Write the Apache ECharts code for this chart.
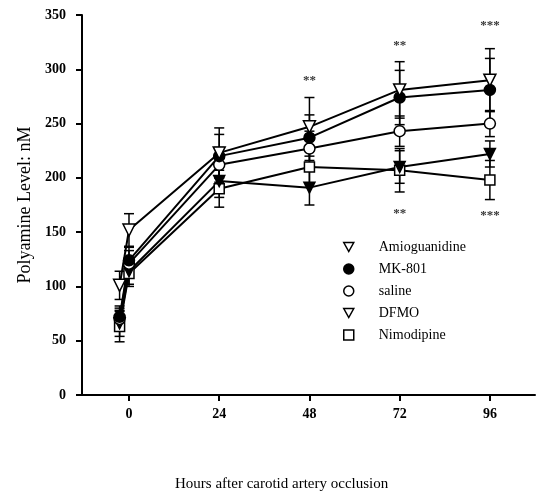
<!DOCTYPE html>
<html>
<head>
<meta charset="utf-8">
<title>Polyamine level after carotid artery occlusion</title>
<script src="https://cdn.jsdelivr.net/npm/echarts@6/dist/echarts.min.js"></script>
<style>
  html, body { margin: 0; padding: 0; background: #fff }
  #chart { width: 537px; height: 494px }
</style>
</head>
<body>
<div id="chart"></div>
<script>
// 数据
const hours = [-2.5, 0, 24, 48, 72, 96]
const xTicks = [0, 24, 48, 72, 96]

const amioguanidine = [101, 152, 223, 247, 281, 290]
const amioguanidineErr = [13, 15, 23, 27, 26, 29]
const mk801 = [72, 124, 220, 237, 274, 281]
const mk801Err = [10, 12, 20, 21, 25, 29]
const saline = [70, 121, 212, 227, 243, 250]
const salineErr = [10, 12, 16, 16, 14, 12]
const dfmo = [66, 114, 197, 191, 210, 222]
const dfmoErr = [12, 12, 15, 16, 15, 12]
const nimodipine = [63, 112, 190, 210, 207, 198]
const nimodipineErr = [14, 12, 17, 15, 20, 18]

// 显著性标记
const sigHours = [48, 72, 96, 72, 96]
const sigLevels = [290, 322, 340, 167, 165]
const sigMarks = ['**', '**', '***', '**', '***']

const FONT = '"Liberation Serif", "Times New Roman", serif'
const DOWN_TRIANGLE = 'path://M0,0 L10,0 L5,9 Z'

const chart = echarts.init(document.getElementById('chart'))

// 每组一条折线
function lineSeries(name, values, symbol, filled, size) {
  return {
    name,
    type: 'line',
    data: hours.map((h, i) => [h, values[i]]),
    symbol,
    symbolSize: size,
    symbolRotate: symbol === 'triangle' ? 180 : 0,
    showSymbol: true,
    z: 3,
    lineStyle: { color: '#000', width: 2 },
    itemStyle: {
      color: filled ? '#000' : '#fff',
      borderColor: '#000',
      borderWidth: 1.5
    }
  }
}

// 误差线（上下 SEM，带端帽）
function errorSeries(name, values, errs) {
  return {
    name: name + ' SEM',
    type: 'custom',
    silent: true,
    z: 2,
    encode: { x: 0, y: [1, 2] },
    data: hours.map((h, i) => [h, values[i] - errs[i], values[i] + errs[i]]),
    renderItem: (params, api) => {
      const lo = api.coord([api.value(0), api.value(1)])
      const hi = api.coord([api.value(0), api.value(2)])
      const w = 5
      const style = { stroke: '#000', lineWidth: 1.5 }
      return {
        type: 'group',
        children: [
          { type: 'line', shape: { x1: lo[0], y1: lo[1], x2: hi[0], y2: hi[1] }, style },
          { type: 'line', shape: { x1: lo[0] - w, y1: lo[1], x2: lo[0] + w, y2: lo[1] }, style },
          { type: 'line', shape: { x1: hi[0] - w, y1: hi[1], x2: hi[0] + w, y2: hi[1] }, style }
        ]
      }
    }
  }
}

const option = {
  animation: false,
  backgroundColor: '#fff',
  grid: { left: 82, right: 2, top: 15, bottom: 99 },

  xAxis: {
    type: 'value',
    min: -12.5,
    max: 108,
    axisLine: { lineStyle: { color: '#000', width: 2 } },
    axisTick: { customValues: xTicks, length: 6, lineStyle: { color: '#000', width: 2 } },
    axisLabel: {
      customValues: xTicks,
      margin: 12,
      color: '#000',
      fontFamily: FONT,
      fontSize: 14,
      fontWeight: 'bold'
    },
    splitLine: { show: false }
  },

  yAxis: {
    type: 'value',
    min: 0,
    max: 350,
    interval: 50,
    name: 'Polyamine Level: nM',
    nameLocation: 'middle',
    nameGap: 42,
    nameTextStyle: { color: '#000', fontFamily: FONT, fontSize: 18 },
    axisLine: { show: true, onZero: false, lineStyle: { color: '#000', width: 2 } },
    axisTick: { show: true, length: 6, lineStyle: { color: '#000', width: 2 } },
    axisLabel: {
      margin: 16,
      color: '#000',
      fontFamily: FONT,
      fontSize: 14,
      fontWeight: 'bold'
    },
    splitLine: { show: false }
  },

  legend: {
    orient: 'vertical',
    left: 338,
    top: 235,
    itemWidth: 10,
    itemHeight: 10,
    itemGap: 8,
    selectedMode: false,
    textStyle: {
      color: '#000',
      fontFamily: FONT,
      fontSize: 14,
      lineHeight: 14,
      padding: [0, 0, 0, 20]
    },
    data: [
      { name: 'Amioguanidine', icon: DOWN_TRIANGLE, itemStyle: { color: '#fff', borderColor: '#000', borderWidth: 1.5 } },
      { name: 'MK-801', icon: 'circle', itemStyle: { color: '#000', borderColor: '#000', borderWidth: 1.5 } },
      { name: 'saline', icon: 'circle', itemStyle: { color: '#fff', borderColor: '#000', borderWidth: 1.5 } },
      { name: 'DFMO', icon: DOWN_TRIANGLE, itemStyle: { color: '#fff', borderColor: '#000', borderWidth: 1.5 } },
      { name: 'Nimodipine', icon: 'rect', itemStyle: { color: '#fff', borderColor: '#000', borderWidth: 1.5 } }
    ]
  },

  graphic: [
    {
      type: 'text',
      left: 175,
      top: 477,
      style: {
        text: 'Hours after carotid artery occlusion',
        fill: '#000',
        font: '15px ' + FONT
      }
    }
  ],

  series: [
    errorSeries('Amioguanidine', amioguanidine, amioguanidineErr),
    errorSeries('MK-801', mk801, mk801Err),
    errorSeries('saline', saline, salineErr),
    errorSeries('DFMO', dfmo, dfmoErr),
    errorSeries('Nimodipine', nimodipine, nimodipineErr),
    lineSeries('Nimodipine', nimodipine, 'rect', false, 10),
    lineSeries('DFMO', dfmo, 'triangle', true, 11),
    lineSeries('saline', saline, 'circle', false, 11),
    lineSeries('MK-801', mk801, 'circle', true, 11),
    lineSeries('Amioguanidine', amioguanidine, 'triangle', false, 12),
    {
      name: 'significance',
      type: 'scatter',
      silent: true,
      symbolSize: 1,
      itemStyle: { color: 'rgba(0,0,0,0)' },
      z: 4,
      data: sigHours.map((h, i) => [h, sigLevels[i]]),
      label: {
        show: true,
        position: 'inside',
        color: '#000',
        fontFamily: FONT,
        fontSize: 13,
        fontWeight: 'bold',
        formatter: (p) => sigMarks[p.dataIndex]
      }
    }
  ]
}

chart.setOption(option)
</script>
</body>
</html>
